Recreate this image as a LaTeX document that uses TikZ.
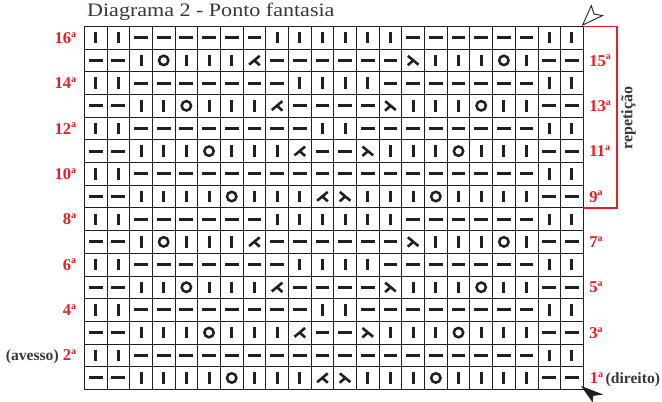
\documentclass[tikz,border=0pt]{standalone}
\usepackage{fontspec}
\setmainfont{Liberation Serif}
\usetikzlibrary{calc}
\definecolor{lblred}{RGB}{237,28,36}
\definecolor{ink}{RGB}{35,31,32}
\definecolor{txtgray}{RGB}{55,55,55}
\newcommand\sa{\raisebox{6.2pt}{\fontsize{10}{10}\selectfont a}}
\newcommand\graytxt[1]{{\color{txtgray}\fontsize{15.6}{18}\selectfont #1}}
\newcommand\knitsym[2]{%
  \if#1K\draw[sym] ([yshift=5.7pt]#2.center) -- ([yshift=-5.7pt]#2.center);\fi
  \if#1P\draw[sym] ([xshift=-6.9pt]#2.center) -- ([xshift=6.9pt]#2.center);\fi
  \if#1O\draw[symc] (#2.center) circle[radius=4.7pt];\fi
  \if#1L\draw[symd] ([shift={(5.3pt,4.6pt)}]#2.center) -- ([shift={(-5.3pt,-4.2pt)}]#2.center)
      ([shift={(-0.3pt,0.2pt)}]#2.center) -- ([shift={(5.4pt,-4.8pt)}]#2.center);\fi
  \if#1R\draw[symd] ([shift={(-5.3pt,4.6pt)}]#2.center) -- ([shift={(5.3pt,-4.2pt)}]#2.center)
      ([shift={(0.3pt,0.2pt)}]#2.center) -- ([shift={(-5.4pt,-4.8pt)}]#2.center);\fi
}
\tikzset{
  cell/.style={draw=ink, line width=0.8pt, minimum size=22.68pt, inner sep=0pt, outer sep=0pt},
  sym/.style={draw=ink, line width=3pt},
  symc/.style={draw=ink, line width=2.5pt},
  symd/.style={draw=ink, line width=2.6pt},
  lbl/.style={text=lblred, font=\fontsize{16.5}{18}\selectfont\bfseries, inner sep=0pt},
  side/.style={text=txtgray, font=\fontsize{16}{18}\selectfont\bfseries, inner sep=0pt},
  bracket/.style={draw=lblred, line width=1.4pt},
}
\begin{document}
\begin{tikzpicture}[x=1pt,y=-1pt]
\useasboundingbox (0,0) rectangle (662,402);
% title
\node[anchor=base west, inner sep=0pt, text=txtgray] (title) at (87,16.5)
  {\scalebox{1.16}[1]{\fontsize{19}{20}\selectfont Diagrama 2 - Ponto fantasia}};
% grid
\foreach \rowlist [count=\r] in {
 {P,P,K,K,K,K,O,K,K,K,L,R,K,K,K,O,K,K,K,K,P,P},
 {K,K,P,P,P,P,P,P,P,P,P,P,P,P,P,P,P,P,P,P,K,K},
 {P,P,K,K,K,O,K,K,K,L,P,P,R,K,K,K,O,K,K,K,P,P},
 {K,K,P,P,P,P,P,P,P,P,K,K,P,P,P,P,P,P,P,P,K,K},
 {P,P,K,K,O,K,K,K,L,P,P,P,P,R,K,K,K,O,K,K,P,P},
 {K,K,P,P,P,P,P,P,P,K,K,K,K,P,P,P,P,P,P,P,K,K},
 {P,P,K,O,K,K,K,L,P,P,P,P,P,P,R,K,K,K,O,K,P,P},
 {K,K,P,P,P,P,P,P,K,K,K,K,K,K,P,P,P,P,P,P,K,K},
 {P,P,K,K,K,K,O,K,K,K,L,R,K,K,K,O,K,K,K,K,P,P},
 {K,K,P,P,P,P,P,P,P,P,P,P,P,P,P,P,P,P,P,P,K,K},
 {P,P,K,K,K,O,K,K,K,L,P,P,R,K,K,K,O,K,K,K,P,P},
 {K,K,P,P,P,P,P,P,P,P,K,K,P,P,P,P,P,P,P,P,K,K},
 {P,P,K,K,O,K,K,K,L,P,P,P,P,R,K,K,K,O,K,K,P,P},
 {K,K,P,P,P,P,P,P,P,K,K,K,K,P,P,P,P,P,P,P,K,K},
 {P,P,K,O,K,K,K,L,P,P,P,P,P,P,R,K,K,K,O,K,P,P},
 {K,K,P,P,P,P,P,P,K,K,K,K,K,K,P,P,P,P,P,P,K,K}}{
  \foreach \s [count=\c] in \rowlist {
    \node[cell] (c\r-\c) at ({84.3+(\c-0.5)*22.68},{389.3-(\r-0.5)*22.68}) {};
    \knitsym{\s}{c\r-\c}
  }
}
% left labels (even rows)
\foreach \r in {4,6,...,16}{
  \node[lbl, anchor=base east] (l\r) at ($(c\r-1.west)+(-8,5.6)$) {\r\sa};
}
\node[lbl, anchor=base east] (l2) at ($(c2-1.west)+(-8,5.6)$) {\graytxt{(avesso)} 2\sa};
% right labels (odd rows)
\foreach \r in {3,5,...,15}{
  \node[lbl, anchor=base west] (r\r) at ($(c\r-22.east)+(6,5.6)$) {\r\sa};
}
\node[lbl, anchor=base west] (r1) at ($(c1-22.east)+(6.5,5.6)$) {1\sa\hspace{2.5pt}\graytxt{(direito)}};
% repetition bracket
\draw[bracket] (c16-22.north east) -- ++(33.7,0) |- (c9-22.south east);
\node[side, rotate=90] (rep) at (628.5,118) {repetição};
% arrows marking start corners
\draw[draw=ink, fill=white, line width=0.9pt, line join=miter]
  ($(c16-22.north east)+(-0.6,-1.4)$) -- ++(8.6,-19.4) -- ++(2.8,8.4) -- ++(8.4,1.6) -- cycle;
\fill[ink]
  ($(c1-22.south east)+(-2.3,-3.4)$) -- ++(22.3,8.6) -- ++(-10,1.4) -- ++(-0.6,6.6) -- cycle;
\end{tikzpicture}
\end{document}
